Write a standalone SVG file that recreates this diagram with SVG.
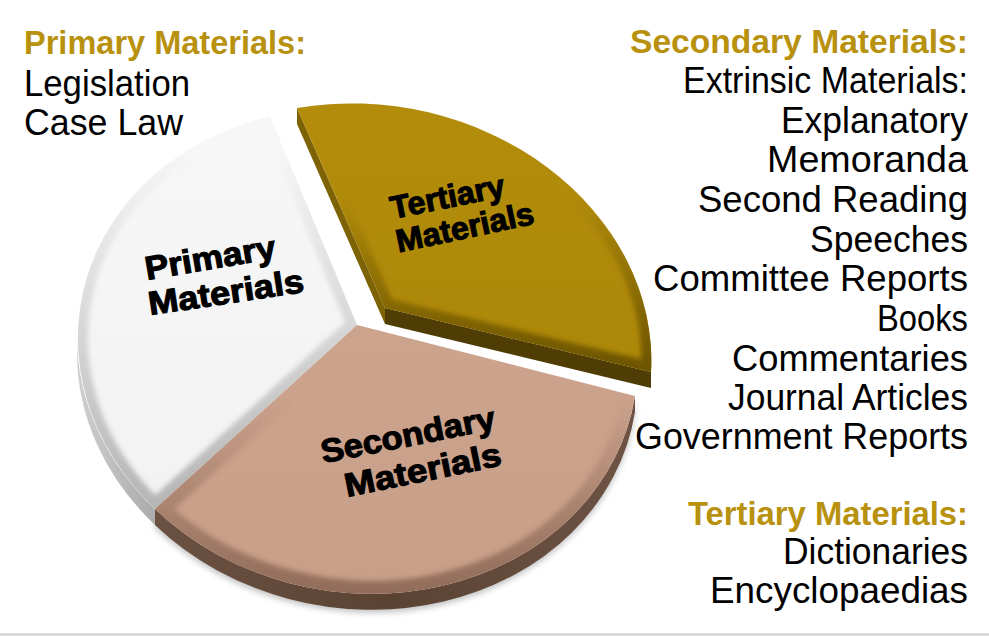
<svg xmlns="http://www.w3.org/2000/svg" width="989" height="636" viewBox="0 0 989 636">
<defs>
<style>
.t{font-family:"Liberation Sans",Arial,sans-serif;font-weight:bold;font-size:32.5px;fill:#B8910F}
.i{font-family:"Liberation Sans",Arial,sans-serif;font-size:36px;fill:#000}
.r{text-anchor:end}
.lbl{font-family:"Liberation Sans",Arial,sans-serif;font-weight:bold;font-size:33px;fill:#000;stroke:#000;stroke-width:1.1;text-anchor:middle}
</style>
<linearGradient id="gWTop" x1="0" y1="0" x2="0" y2="1"><stop offset="0" stop-color="#f7f7f7"/><stop offset="1" stop-color="#f2f2f2"/></linearGradient>
<linearGradient id="gSTop" x1="0" y1="0" x2="0" y2="1"><stop offset="0" stop-color="#cca38d"/><stop offset="1" stop-color="#c89f88"/></linearGradient>
<linearGradient id="gTTop" x1="0" y1="0" x2="0" y2="1"><stop offset="0" stop-color="#b38c0b"/><stop offset="1" stop-color="#ad8808"/></linearGradient>
<linearGradient id="bW" gradientUnits="userSpaceOnUse" x1="0" y1="150" x2="0" y2="510"><stop offset="0" stop-color="#bdbdbd" stop-opacity="0"/><stop offset="1" stop-color="#b4b4b4" stop-opacity="1"/></linearGradient>
<linearGradient id="bS" gradientUnits="userSpaceOnUse" x1="0" y1="400" x2="0" y2="592"><stop offset="0" stop-color="#8e6a58" stop-opacity="0"/><stop offset="1" stop-color="#8e6a58" stop-opacity="0.95"/></linearGradient>
<linearGradient id="bT" gradientUnits="userSpaceOnUse" x1="0" y1="200" x2="0" y2="375"><stop offset="0" stop-color="#6a5205" stop-opacity="0"/><stop offset="1" stop-color="#6a5205" stop-opacity="1"/></linearGradient>
<linearGradient id="sW" gradientUnits="userSpaceOnUse" x1="77" y1="0" x2="160" y2="0"><stop offset="0" stop-color="#cfcfcf"/><stop offset="1" stop-color="#a9a9a9"/></linearGradient>
<linearGradient id="sS" gradientUnits="userSpaceOnUse" x1="155" y1="0" x2="635" y2="0"><stop offset="0" stop-color="#6b5141"/><stop offset="0.5" stop-color="#5a4333"/><stop offset="1" stop-color="#6e5344"/></linearGradient>
<filter id="soft" x="-10%" y="-10%" width="120%" height="120%"><feGaussianBlur stdDeviation="2.5"/></filter>
<filter id="shadow" x="-10%" y="-20%" width="120%" height="140%"><feGaussianBlur stdDeviation="3"/></filter>
<clipPath id="cW"><path d="M 357 325 L 270 116 A 281 242 10 0 0 155 509 Z"/></clipPath>
<clipPath id="cS"><path d="M 357 325 L 155 509 A 281 242 10 0 0 635 396 Z"/></clipPath>
<clipPath id="cT"><path d="M 385 308 L 297 108 A 285 242 10 0 1 651 372 Z"/></clipPath>
</defs>
<rect width="989" height="636" fill="#ffffff"/>

<path d="M 155 512 A 281 242 10 0 0 635 399 L 635 414 A 281 242 10 0 1 155 528 Z" fill="#000" opacity="0.25" filter="url(#shadow)"/>

<g id="slice-primary">
<path d="M 77 338 A 281 242 10 0 0 155 509 L 155 525 A 281 242 10 0 1 77 354 Z" fill="url(#sW)"/>
<path d="M 357 325 L 270 116 A 281 242 10 0 0 155 509 Z" fill="url(#gWTop)"/>
<g clip-path="url(#cW)"><path d="M 357 325 L 270 116 A 281 242 10 0 0 155 509 Z" fill="none" stroke="url(#bW)" stroke-width="20" stroke-linejoin="round" filter="url(#soft)"/></g>
<text class="lbl" transform="translate(212,269) rotate(-9.6)" textLength="132" lengthAdjust="spacingAndGlyphs">Primary</text>
<text class="lbl" transform="translate(227.5,303.5) rotate(-8.5)" textLength="157" lengthAdjust="spacingAndGlyphs">Materials</text>
</g>

<g id="slice-secondary">
<path d="M 155 509 A 281 242 10 0 0 635 396 L 635 412 A 281 242 10 0 1 155 525 Z" fill="url(#sS)"/>
<path d="M 357 325 L 155 509 A 281 242 10 0 0 635 396 Z" fill="url(#gSTop)"/>
<g clip-path="url(#cS)"><path d="M 357 325 L 155 509 A 281 242 10 0 0 635 396 Z" fill="none" stroke="url(#bS)" stroke-width="26" stroke-linejoin="round" filter="url(#soft)"/></g>
<text class="lbl" transform="translate(410,446) rotate(-11.3)" textLength="177" lengthAdjust="spacingAndGlyphs">Secondary</text>
<text class="lbl" transform="translate(425,481) rotate(-11.6)" textLength="159" lengthAdjust="spacingAndGlyphs">Materials</text>
</g>

<g id="slice-tertiary">
<path d="M 297 108 L 385 308 L 385 324 L 297 124 Z" fill="#7d6206"/>
<path d="M 385 308 L 651 372 L 651 388 L 385 324 Z" fill="#4f3d05"/>
<path d="M 385 308 L 297 108 A 285 242 10 0 1 651 372 Z" fill="url(#gTTop)"/>
<g clip-path="url(#cT)"><path d="M 385 308 L 297 108 A 285 242 10 0 1 651 372 Z" fill="none" stroke="url(#bT)" stroke-width="20" stroke-linejoin="round" filter="url(#soft)"/></g>
<text class="lbl" style="font-size:32px" transform="translate(449.5,207.5) rotate(-11.4)" textLength="116" lengthAdjust="spacingAndGlyphs">Tertiary</text>
<text class="lbl" style="font-size:32px" transform="translate(467,238) rotate(-12)" textLength="140" lengthAdjust="spacingAndGlyphs">Materials</text>
</g>

<g id="legend-primary">
<text class="t" x="24" y="54" textLength="282" lengthAdjust="spacingAndGlyphs">Primary Materials:</text>
<text class="i" x="24" y="96" textLength="166" lengthAdjust="spacingAndGlyphs">Legislation</text>
<text class="i" x="24" y="135" textLength="159" lengthAdjust="spacingAndGlyphs">Case Law</text>
</g>

<g id="legend-secondary">
<text class="t r" x="968" y="53" textLength="338" lengthAdjust="spacingAndGlyphs">Secondary Materials:</text>
<text class="i r" x="968" y="93" textLength="285" lengthAdjust="spacingAndGlyphs">Extrinsic Materials:</text>
<text class="i r" x="968" y="133" textLength="187" lengthAdjust="spacingAndGlyphs">Explanatory</text>
<text class="i r" x="968" y="172" textLength="201" lengthAdjust="spacingAndGlyphs">Memoranda</text>
<text class="i r" x="968" y="212" textLength="270" lengthAdjust="spacingAndGlyphs">Second Reading</text>
<text class="i r" x="968" y="252" textLength="158" lengthAdjust="spacingAndGlyphs">Speeches</text>
<text class="i r" x="968" y="291" textLength="315" lengthAdjust="spacingAndGlyphs">Committee Reports</text>
<text class="i r" x="968" y="331" textLength="91" lengthAdjust="spacingAndGlyphs">Books</text>
<text class="i r" x="968" y="371" textLength="236" lengthAdjust="spacingAndGlyphs">Commentaries</text>
<text class="i r" x="968" y="410" textLength="240" lengthAdjust="spacingAndGlyphs">Journal Articles</text>
<text class="i r" x="968" y="449" textLength="333" lengthAdjust="spacingAndGlyphs">Government Reports</text>
</g>

<g id="legend-tertiary">
<text class="t r" x="968" y="525" textLength="280" lengthAdjust="spacingAndGlyphs">Tertiary Materials:</text>
<text class="i r" x="968" y="564" textLength="185" lengthAdjust="spacingAndGlyphs">Dictionaries</text>
<text class="i r" x="968" y="603" textLength="258" lengthAdjust="spacingAndGlyphs">Encyclopaedias</text>
</g>

<g id="connectors"/>

<line x1="0" y1="634.5" x2="989" y2="634.5" stroke="#cccccc" stroke-width="2"/>
</svg>
